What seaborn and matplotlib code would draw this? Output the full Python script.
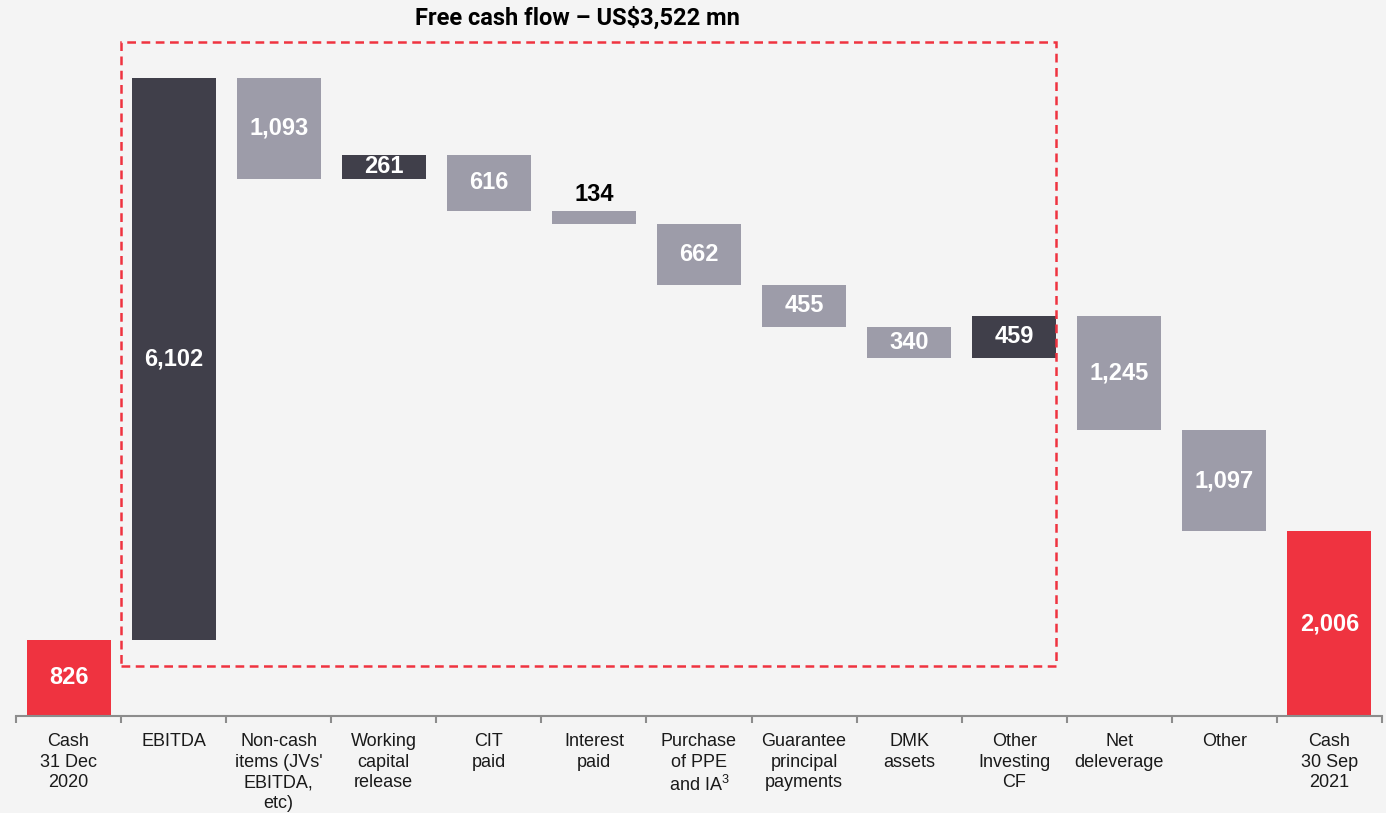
import numpy as np
import pandas as pd
import matplotlib
matplotlib.use("Agg")
import matplotlib.pyplot as plt
from matplotlib.patches import Rectangle
import seaborn as sns

# ---- data ----
categories = ["Cash\n31 Dec\n2020", "EBITDA", "Non-cash\nitems (JVs'\nEBITDA,\netc)",
              "Working\ncapital\nrelease", "CIT\npaid", "Interest\npaid",
              "Purchase\nof PPE\nand IA$^3$", "Guarantee\nprincipal\npayments",
              "DMK\nassets", "Other\nInvesting\nCF", "Net\ndeleverage", "Other",
              "Cash\n30 Sep\n2021"]
changes = [826, 6102, -1093, 261, -616, -134, -662, -455, -340, 459, -1245, -1097, 2006]
kinds = ["total", "up", "down", "up", "down", "down", "down", "down", "down", "up",
         "down", "down", "total"]
value_labels = ["826", "6,102", "1,093", "261", "616", "134", "662", "455", "340",
                "459", "1,245", "1,097", "2,006"]
title_text = "Free cash flow \u2013 US\\$3,522 mn"

kind_colors = {"total": "#EF3340", "up": "#403F4A", "down": "#9D9CA9"}

# waterfall geometry
bases, heights = [], []
running = 0
for c, k in zip(changes, kinds):
    if k == "total":
        bases.append(0)
        heights.append(c)
        running = c
    elif c >= 0:
        bases.append(running)
        heights.append(c)
        running += c
    else:
        bases.append(running + c)
        heights.append(-c)
        running += c

df = pd.DataFrame({"cat": categories, "height": heights})
palette = {cat: kind_colors[k] for cat, k in zip(categories, kinds)}

sns.set_theme(style="white")
plt.rcParams["font.family"] = ["Liberation Sans", "DejaVu Sans"]
plt.rcParams["mathtext.fontset"] = "custom"
plt.rcParams["mathtext.rm"] = "Liberation Sans"
plt.rcParams["mathtext.it"] = "Liberation Sans"

bg = "#F4F4F4"
fig = plt.figure(figsize=(13.86, 8.13), dpi=100, facecolor=bg)
ax = fig.add_axes([16 / 1386, 97 / 813, 1366 / 1386, 716 / 813])
ax.set_facecolor(bg)

sns.barplot(data=df, x="cat", y="height", hue="cat", palette=palette,
            order=categories, hue_order=categories, legend=False,
            width=0.8, saturation=1, ax=ax)

for patch, b, h, k, lab in zip(ax.patches, bases, heights, kinds, value_labels):
    patch.set_y(b)
    patch.set_height(h)
    patch.set_edgecolor("none")
    cx = patch.get_x() + patch.get_width() / 2
    if h < 300:
        if k == "up":
            ax.text(cx, b + h / 2, lab, ha="center", va="center", color="white",
                    fontsize=17, fontweight="bold")
        else:
            ax.text(cx, b + h + 60, lab, ha="center", va="bottom", color="black",
                    fontsize=17, fontweight="bold")
    else:
        ax.text(cx, b + h / 2, lab, ha="center", va="center", color="white",
                fontsize=17, fontweight="bold")

ax.set_xlim(-0.5, len(categories) - 0.5)
ax.set_ylim(0, 7775)
ax.set_xlabel("")
ax.set_ylabel("")
ax.set_yticks([])

for s in ["left", "right", "top"]:
    ax.spines[s].set_visible(False)
ax.spines["bottom"].set_color("#8C8C8C")
ax.spines["bottom"].set_linewidth(1.5)

ax.set_xticks(range(len(categories)))
ax.set_xticklabels(categories, fontsize=13, color="#1A1A1A", linespacing=1.26)
ax.set_xticks(np.arange(-0.5, len(categories), 1.0), minor=True)
ax.tick_params(axis="x", which="major", length=0, pad=12.5)
ax.tick_params(axis="x", which="minor", length=5, width=1.5, color="#8C8C8C",
               direction="out", bottom=True)

# dashed free cash flow box
box = Rectangle((0.5, 543), 8.9, 7318 - 543, fill=False, edgecolor="#EF3340",
                linewidth=1.8, linestyle=(0, (3.5, 2.2)), zorder=5, clip_on=False)
ax.add_patch(box)

ax.text(0.4107, 0.975, title_text, transform=ax.transAxes, ha="center", va="center",
        fontsize=17, fontweight="bold", family=["Roboto", "DejaVu Sans"], color="black")

fig.savefig("out.png", dpi=100, facecolor=bg)
